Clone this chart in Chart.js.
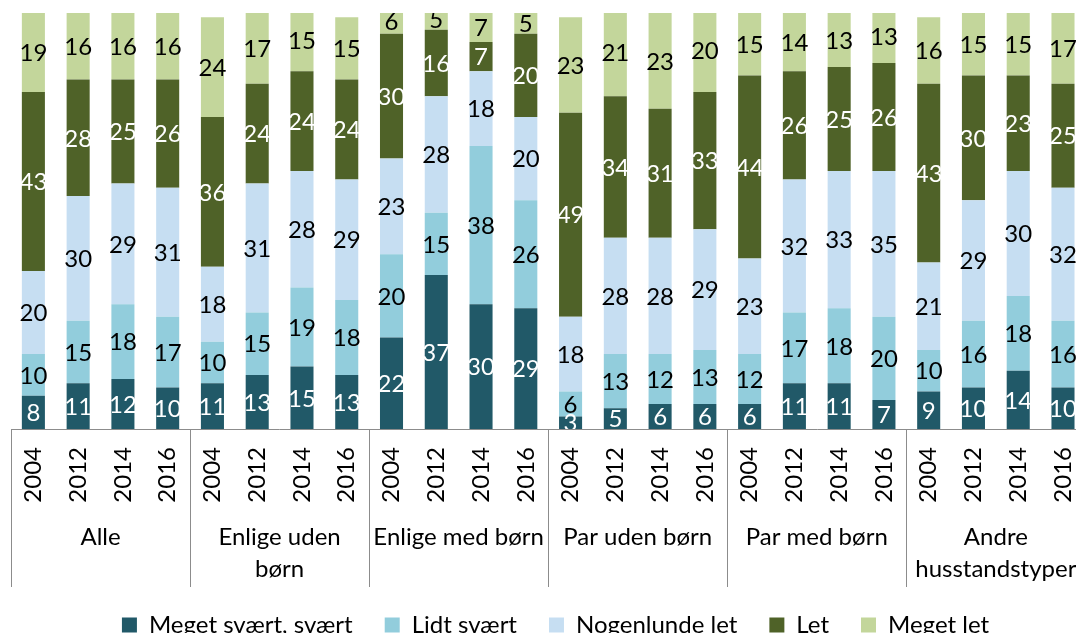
<!DOCTYPE html>
<html lang="da">
<head>
<meta charset="utf-8">
<title>Husstandenes økonomi</title>
<script src="https://cdn.jsdelivr.net/npm/chart.js@4/dist/chart.umd.min.js"></script>
<style>
  html, body { margin: 0; padding: 0; background: #ffffff; overflow: hidden; }
  #wrap { width: 1110px; height: 647px; }
  canvas { display: block; }
</style>
</head>
<body>
<div id="wrap"><canvas id="chart" width="1110" height="647"></canvas></div>
<script>
// Household groups (second axis level) and survey years (first axis level)
const groups = [
  ["Alle"],
  ["Enlige uden", "børn"],
  ["Enlige med børn"],
  ["Par uden børn"],
  ["Par med børn"],
  ["Andre", "husstandstyper"]
];
const years = ["2004", "2012", "2014", "2016"];

// Shares in percent, one value per group/year, in the order of the bars
const megetSvaert   = [8, 11, 12, 10,  11, 13, 15, 13,  22, 37, 30, 29,  3, 5, 6, 6,     6, 11, 11, 7,    9, 10, 14, 10];
const lidtSvaert    = [10, 15, 18, 17, 10, 15, 19, 18,  20, 15, 38, 26,  6, 13, 12, 13,  12, 17, 18, 20,  10, 16, 18, 16];
const nogenlundeLet = [20, 30, 29, 31, 18, 31, 28, 29,  23, 28, 18, 20,  18, 28, 28, 29, 23, 32, 33, 35,  21, 29, 30, 32];
const letVals       = [43, 28, 25, 26, 36, 24, 24, 24,  30, 16, 7, 20,   49, 34, 31, 33, 44, 26, 25, 26,  43, 30, 23, 25];
const megetLet      = [19, 16, 16, 16, 24, 17, 15, 15,  6, 5, 7, 5,      23, 21, 23, 20, 15, 14, 13, 13,  16, 15, 15, 17];

const seriesNames = ["Meget svært, svært", "Lidt svært", "Nogenlunde let", "Let", "Meget let"];

const FONT = "Lato";
const labels = groups.flatMap(() => years);

const series = [
  { name: seriesNames[0], data: megetSvaert,   color: "#215968", text: "#ffffff" },
  { name: seriesNames[1], data: lidtSvaert,    color: "#92CDDC", text: "#000000" },
  { name: seriesNames[2], data: nogenlundeLet, color: "#C6DEF2", text: "#000000" },
  { name: seriesNames[3], data: letVals,       color: "#4F6228", text: "#ffffff" },
  { name: seriesNames[4], data: megetLet,      color: "#C3D69B", text: "#000000" }
];

// Value labels centred in each stacked segment, clipped to the plot area
const segmentLabels = {
  id: "segmentLabels",
  afterDatasetsDraw(chart) {
    const { ctx, chartArea } = chart;
    ctx.save();
    ctx.beginPath();
    ctx.rect(chartArea.left, chartArea.top, chartArea.right - chartArea.left, chartArea.bottom - chartArea.top);
    ctx.clip();
    ctx.font = `24px ${FONT}`;
    ctx.textAlign = "center";
    ctx.textBaseline = "middle";
    chart.data.datasets.forEach((ds, i) => {
      const meta = chart.getDatasetMeta(i);
      ctx.fillStyle = series[i].text;
      meta.data.forEach((bar, j) => {
        const v = ds.data[j];
        if (v == null) return;
        ctx.fillText(String(v), bar.x, (bar.y + bar.base) / 2 + 1);
      });
    });
    ctx.restore();
  }
};

// Group names under the years, with separators between the groups
const groupAxis = {
  id: "groupAxis",
  afterDraw(chart) {
    const { ctx, chartArea } = chart;
    const x = chart.scales.x;
    const step = x.getPixelForValue(1) - x.getPixelForValue(0);
    const lineTop = chartArea.bottom;
    const lineBottom = chartArea.bottom + 158;
    ctx.save();
    ctx.strokeStyle = "#8c8c8c";
    ctx.lineWidth = 1;
    for (let g = 0; g <= groups.length; g++) {
      const px = Math.round(x.getPixelForValue(g * years.length) - step / 2) + 0.5;
      ctx.beginPath();
      ctx.moveTo(px, lineTop);
      ctx.lineTo(px, lineBottom);
      ctx.stroke();
    }
    ctx.fillStyle = "#000000";
    ctx.font = `24px ${FONT}`;
    ctx.textAlign = "center";
    ctx.textBaseline = "alphabetic";
    groups.forEach((lines, g) => {
      const first = x.getPixelForValue(g * years.length);
      const last = x.getPixelForValue(g * years.length + years.length - 1);
      const cx = (first + last) / 2;
      lines.forEach((line, k) => {
        ctx.fillText(line, cx, chartArea.bottom + 116 + k * 32);
      });
    });
    ctx.restore();
  }
};

function build() {
  new Chart(document.getElementById("chart"), {
    type: "bar",
    data: {
      labels,
      datasets: series.map(s => ({
        label: s.name,
        data: s.data,
        backgroundColor: s.color,
        borderWidth: 0,
        categoryPercentage: 1,
        barPercentage: 0.515,
        clip: 0
      }))
    },
    options: {
      responsive: false,
      devicePixelRatio: 1,
      animation: false,
      layout: { padding: { left: 11, right: 10, top: 13, bottom: 0 } },
      plugins: {
        legend: {
          position: "bottom",
          labels: {
            boxWidth: 15,
            boxHeight: 15,
            padding: 32,
            color: "#000000",
            font: { family: FONT, size: 24 }
          }
        },
        tooltip: { enabled: false }
      },
      scales: {
        x: {
          stacked: true,
          grid: { display: false, drawTicks: false },
          border: { display: true, color: "#8c8c8c", width: 1 },
          ticks: {
            autoSkip: false,
            minRotation: 90,
            maxRotation: 90,
            padding: 18,
            color: "#000000",
            font: { family: FONT, size: 24 }
          },
          afterFit(scale) { scale.height = 152; }
        },
        y: {
          stacked: true,
          display: false,
          min: 0,
          max: 100
        }
      }
    },
    plugins: [segmentLabels, groupAxis]
  });
}

if (document.fonts && document.fonts.load) {
  document.fonts.load(`24px ${FONT}`).then(build, build);
} else {
  build();
}
</script>
</body>
</html>
